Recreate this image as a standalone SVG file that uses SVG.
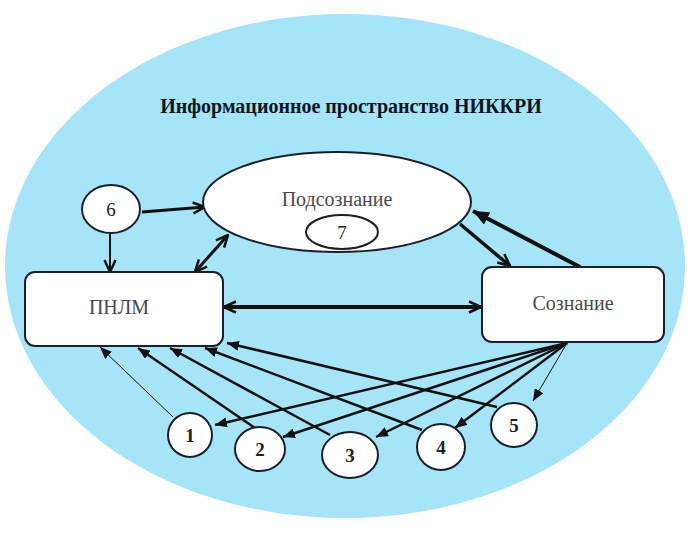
<svg xmlns="http://www.w3.org/2000/svg" width="693" height="533" viewBox="0 0 693 533">
<style>
.node{fill:#fff;stroke:#1b1f2a;stroke-width:2}
.lbl{font-family:"Liberation Serif","DejaVu Serif",serif;font-size:20px;fill:#4a4a4a;text-anchor:middle}
.num{font-family:"Liberation Serif","DejaVu Serif",serif;font-size:19px;fill:#222;text-anchor:middle}
.b{font-weight:bold}
.c{stroke:#111;fill:none;stroke-linecap:butt}
</style>
<defs>
<marker id="open" viewBox="0 0 14 14" markerWidth="14" markerHeight="14" refX="13" refY="7" orient="auto-start-reverse" markerUnits="userSpaceOnUse">
<path d="M1,1.5 L13,7 L1,12.5" fill="none" stroke="#111" stroke-width="2.5"/>
</marker>
<marker id="fill" viewBox="0 0 12 10" markerWidth="12" markerHeight="10" refX="12" refY="5" orient="auto" markerUnits="userSpaceOnUse">
<path d="M0,0 L12,5 L0,10 z" fill="#111"/>
</marker>
<marker id="fillbig" viewBox="0 0 16 14" markerWidth="16" markerHeight="14" refX="16" refY="7" orient="auto" markerUnits="userSpaceOnUse">
<path d="M0,0 L16,7 L0,14 z" fill="#111"/>
</marker>
</defs>
<rect width="693" height="533" fill="#fff"/>
<ellipse id="space" cx="345" cy="266" rx="340" ry="252" fill="#a6e4f8"/>
<text x="351" y="113" font-family="'Liberation Serif','DejaVu Serif',serif" font-size="20" font-weight="bold" fill="#0d1520" text-anchor="middle">Информационное пространство НИККРИ</text>

<g id="connectors">
<line class="c" x1="142" y1="212" x2="205" y2="207" stroke-width="3" marker-end="url(#open)"/>
<line class="c" x1="110" y1="233" x2="110" y2="272" stroke-width="2" marker-end="url(#open)"/>
<line class="c" x1="195" y1="272" x2="228" y2="235" stroke-width="3" marker-start="url(#open)" marker-end="url(#open)"/>
<line class="c" x1="460" y1="224" x2="510" y2="266" stroke-width="3.5" marker-end="url(#open)"/>
<line class="c" x1="580" y1="267" x2="473" y2="211" stroke-width="4" marker-end="url(#fillbig)"/>
<line class="c" x1="224" y1="307" x2="481" y2="307" stroke-width="4" marker-start="url(#open)" marker-end="url(#open)"/>
<line class="c" x1="567" y1="343" x2="215" y2="425" stroke-width="2.5" marker-end="url(#fill)"/>
<line class="c" x1="567" y1="343" x2="283" y2="437" stroke-width="2.5" marker-end="url(#fill)"/>
<line class="c" x1="567" y1="343" x2="376" y2="437" stroke-width="2.5" marker-end="url(#fill)"/>
<line class="c" x1="567" y1="343" x2="455" y2="428" stroke-width="2.5" marker-end="url(#fill)"/>
<line class="c" x1="567" y1="343" x2="533" y2="401" stroke-width="1" marker-end="url(#fill)"/>
<line class="c" x1="173" y1="417" x2="100" y2="347" stroke-width="1" marker-end="url(#fill)"/>
<line class="c" x1="255" y1="428" x2="138" y2="348" stroke-width="2.5" marker-end="url(#fill)"/>
<line class="c" x1="330" y1="435" x2="170" y2="348" stroke-width="2.5" marker-end="url(#fill)"/>
<line class="c" x1="422" y1="430" x2="205" y2="348" stroke-width="2.5" marker-end="url(#fill)"/>
<line class="c" x1="497" y1="407" x2="227" y2="343" stroke-width="2.5" marker-end="url(#fill)"/>
</g>

<g id="n6"><ellipse class="node" cx="111" cy="209" rx="29" ry="24"/><text class="num" x="111" y="216">6</text></g>
<g id="subconscious"><ellipse class="node" cx="337" cy="202" rx="134" ry="50"/><text class="lbl" x="337" y="206">Подсознание</text></g>
<g id="n7"><ellipse class="node" cx="342" cy="232" rx="36" ry="17" stroke-width="1.5"/><text class="num" x="342" y="239">7</text></g>
<g id="pnlm"><rect class="node" x="25" y="272" width="198" height="74" rx="10"/><text class="lbl" x="119" y="314">ПНЛМ</text></g>
<g id="consciousness"><rect class="node" x="482" y="267" width="182" height="75" rx="10"/><text class="lbl" x="573" y="310">Сознание</text></g>
<g id="n1"><ellipse class="node" cx="190" cy="435" rx="22" ry="22"/><text class="num b" x="190" y="442">1</text></g>
<g id="n2"><ellipse class="node" cx="260" cy="449" rx="25" ry="22"/><text class="num b" x="260" y="456">2</text></g>
<g id="n3"><ellipse class="node" cx="350" cy="455" rx="28" ry="23"/><text class="num b" x="350" y="462">3</text></g>
<g id="n4"><ellipse class="node" cx="441" cy="447" rx="24" ry="23"/><text class="num b" x="441" y="454">4</text></g>
<g id="n5"><ellipse class="node" cx="514" cy="425" rx="23" ry="22"/><text class="num b" x="514" y="432">5</text></g>
</svg>
